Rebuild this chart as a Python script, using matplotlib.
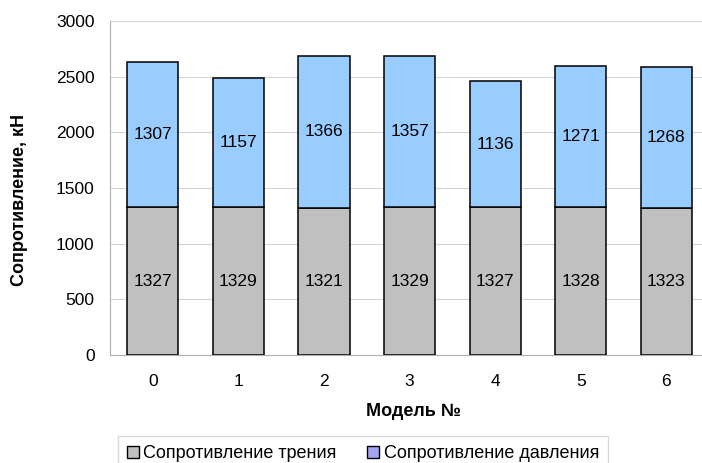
import matplotlib.pyplot as plt
from matplotlib.patches import Patch

models = ["0", "1", "2", "3", "4", "5", "6"]
friction = [1327, 1329, 1321, 1329, 1327, 1328, 1323]
pressure = [1307, 1157, 1366, 1357, 1136, 1271, 1268]
series_names = ["Сопротивление трения", "Сопротивление давления"]
y_ticks = [0, 500, 1000, 1500, 2000, 2500, 3000]

plt.rcParams['font.family'] = ['Liberation Sans', 'DejaVu Sans']

W, H = 702, 463
fig = plt.figure(figsize=(W / 100, H / 100), dpi=100)
ax = fig.add_axes([110 / W, (H - 355) / H, (W - 110) / W, (355 - 21) / H])

gray = '#c0c0c0'
blue = '#99ccff'
x = list(range(len(models)))
ax.bar(x, friction, width=0.6, color=gray, edgecolor='black', linewidth=1.1, zorder=3)
ax.bar(x, pressure, width=0.6, bottom=friction, color=blue, edgecolor='black',
       linewidth=1.1, zorder=3)

for i in x:
    ax.text(i, friction[i] / 2, str(friction[i]), ha='center', va='center',
            fontsize=12.5, zorder=4)
    ax.text(i, friction[i] + pressure[i] / 2, str(pressure[i]), ha='center',
            va='center', fontsize=12.5, zorder=4)

ax.set_xlim(-0.5, -0.5 + (W - 110) / 85.6)
ax.set_ylim(0, 3000)
ax.set_yticks(y_ticks)
ax.set_xticks(x)
ax.set_xticklabels(models)
ax.tick_params(axis='both', labelsize=12.5, length=0)
ax.tick_params(axis='y', pad=11)
ax.tick_params(axis='x', pad=14)
ax.yaxis.grid(True, color='#d4d4d4', linewidth=0.8, zorder=0)
for s in ['top', 'right']:
    ax.spines[s].set_visible(False)
for s in ['left', 'bottom']:
    ax.spines[s].set_color('#b0b0b0')

fig.text(20 / W, (H - 200) / H, "Сопротивление, кН", rotation=90, ha='center',
         va='center', fontsize=13, fontweight='bold')
fig.text(413 / W, (H - 411) / H, "Модель №", ha='center', va='center',
         fontsize=13, fontweight='bold')

handles = [Patch(facecolor=gray, edgecolor='black', linewidth=1),
           Patch(facecolor='#a4a4f0', edgecolor='black', linewidth=1)]
leg = fig.legend(handles, series_names, loc='upper left',
                 bbox_to_anchor=(118 / W, (H - 436) / H), ncol=2, fontsize=13,
                 frameon=True, fancybox=False, handlelength=0.65, handleheight=0.65,
                 handletextpad=0.25, columnspacing=1.7, borderpad=0.5,
                 borderaxespad=0)
leg.get_frame().set_edgecolor('#d0d0d0')
leg.get_frame().set_linewidth(1)

fig.savefig('out.png', dpi=100)
